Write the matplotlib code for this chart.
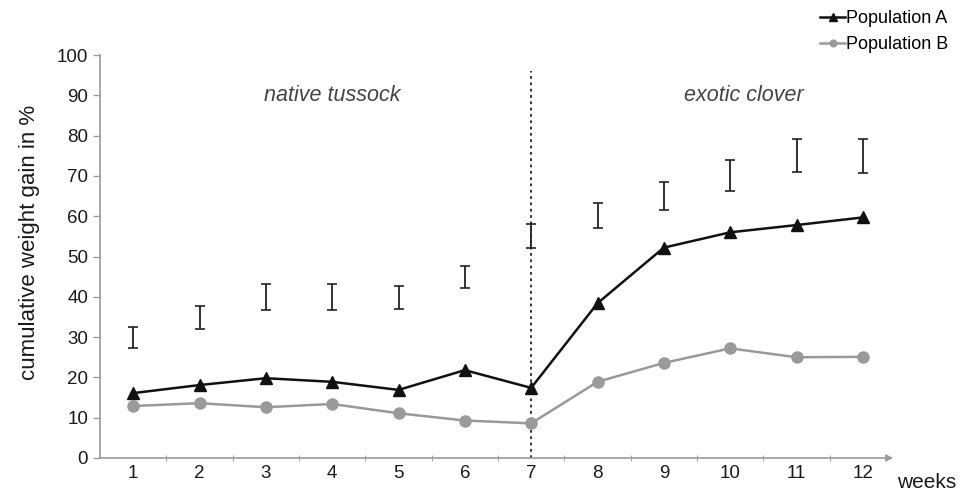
import matplotlib
matplotlib.use("Agg")
import matplotlib.pyplot as plt
import numpy as np

plt.rcParams['font.family'] = ['Liberation Sans', 'DejaVu Sans']

weeks = [1, 2, 3, 4, 5, 6, 7, 8, 9, 10, 11, 12]
pop_a = [16.1, 18.1, 19.8, 18.9, 16.9, 21.8, 17.4, 38.4, 52.2, 56.0, 57.8, 59.7]
pop_b = [12.9, 13.6, 12.6, 13.4, 11.1, 9.3, 8.6, 18.9, 23.6, 27.2, 25.0, 25.1]
err_low = [27.2, 32.0, 36.7, 36.7, 36.9, 42.1, 52.0, 57.0, 61.5, 66.3, 71.0, 70.8]
err_high = [32.6, 37.8, 43.1, 43.1, 42.7, 47.7, 58.1, 63.2, 68.6, 73.9, 79.1, 79.1]
y_ticks = [0, 10, 20, 30, 40, 50, 60, 70, 80, 90, 100]
region_labels = ["native tussock", "exotic clover"]

fig = plt.figure(figsize=(9.6, 4.95), dpi=100)
ax = fig.add_axes([100/960, 1 - 458/495, 796/960, (458 - 55)/495])

axis_col = '#9a9a9a'
txt_col = '#1a1a1a'

ax.plot(weeks, pop_b, color='#999999', lw=1.8, marker='o', ms=8,
        mfc='#9a9a9a', mec='#9a9a9a', label='Population B', zorder=3)
ax.plot(weeks, pop_a, color='#111111', lw=1.8, marker='^', ms=9,
        mfc='#111111', mec='#111111', label='Population A', zorder=4)

lo = np.array(err_low); hi = np.array(err_high)
mid = (lo + hi) / 2
ax.errorbar(weeks, mid, yerr=(hi - lo) / 2, fmt='none', ecolor='#222222',
            elinewidth=1.3, capsize=3.5, capthick=1.2, zorder=2)

ax.plot([7, 7], [0, 96], color='#222222', lw=1.3, ls=(0, (1.5, 2.0)), zorder=1)

ax.text(4, 90, region_labels[0], ha='center', va='center', fontsize=15.5,
        style='italic', color='#444444')
ax.text(10.2, 90, region_labels[1], ha='center', va='center', fontsize=15.5,
        style='italic', color='#444444')

ax.set_xlim(0.5, 12.5)
ax.set_ylim(0, 100)
ax.set_yticks(y_ticks)
ax.set_xticks(weeks)
ax.set_xticks([w + 0.5 for w in weeks[:-1]], minor=True)
ax.tick_params(axis='x', which='major', length=0, labelsize=13.5, colors=txt_col, pad=5)
ax.tick_params(axis='x', which='minor', length=4, color=axis_col, direction='inout')
ax.tick_params(axis='y', length=5, color=axis_col, labelsize=13.5, labelcolor=txt_col, width=1)

for s in ['top', 'right']:
    ax.spines[s].set_visible(False)
for s in ['left', 'bottom']:
    ax.spines[s].set_color(axis_col)
    ax.spines[s].set_linewidth(1.2)
ax.spines['bottom'].set_bounds(0.5, 12.4)

ax.annotate('', xy=(12.5, 0), xytext=(12.3, 0),
            arrowprops=dict(arrowstyle='-|>', color=axis_col, lw=1.2,
                            mutation_scale=10), annotation_clip=False)

ax.set_ylabel('cumulative weight gain in %', fontsize=16, color=txt_col)
ax.yaxis.set_label_coords(-60/796, 0.5 + 14/403)
fig.text(897/960, 1 - 483/495, 'weeks', fontsize=15, color=txt_col, va='center', ha='left')

handles, labels = ax.get_legend_handles_labels()
leg = fig.legend(handles[::-1], labels[::-1], loc='upper right',
                 bbox_to_anchor=(1.005, 1.012), frameon=False, fontsize=13,
                 handlelength=1.4, handletextpad=0.05, markerscale=0.6,
                 labelspacing=0.5)

fig.savefig('out.png', dpi=100, facecolor='white')
